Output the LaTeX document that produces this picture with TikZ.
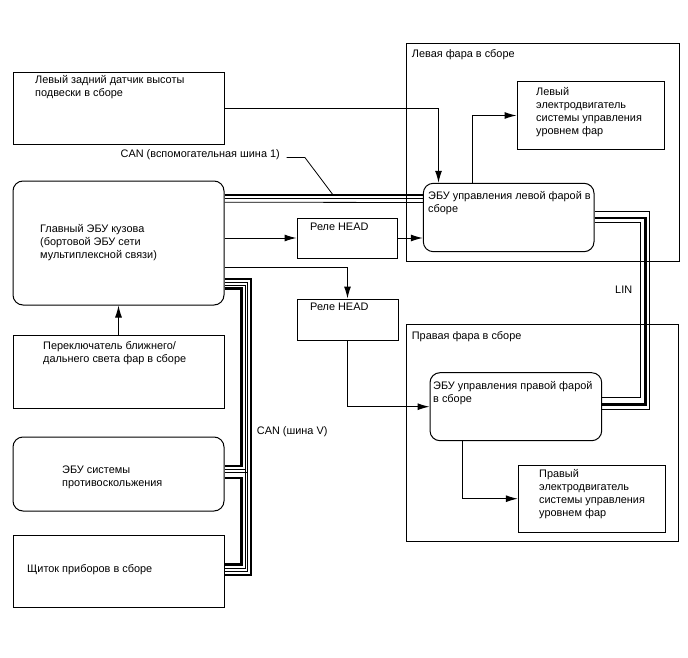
\documentclass[tikz,border=0pt]{standalone}
\usepackage{fontspec}
\setmainfont{Liberation Sans}
\usetikzlibrary{arrows.meta,calc}

\begin{document}
\begin{tikzpicture}[x=1pt, y=-1pt, >={Latex[length=12pt,width=7pt]},
    unit/.style={draw, rectangle, line width=1pt, inner sep=0pt},
    ecu/.style={unit, rounded corners=10pt},
    lbl/.style={anchor=north west, inner sep=0pt, align=left, font=\fontsize{10.9}{13}\selectfont},
    sig/.style={->, line width=1pt},
    busw/.style={line width=2.6pt},
    busn/.style={line width=0.8pt}]

\useasboundingbox (0,0) rectangle (688,658);

% Headlamp assemblies
\node[unit, minimum width=273pt, minimum height=217pt] (lhead) at (542.5,152.5) {};
\node[lbl] (lheadtxt) at (411.7,49) {Левая фара в сборе};
\node[unit, minimum width=272pt, minimum height=216.7pt] (rhead) at (542.5,433.3) {};
\node[lbl] (rheadtxt) at (411.7,331.2) {Правая фара в сборе};

% Left column
\node[unit, minimum width=211pt, minimum height=72.5pt] (sensor) at (118.5,108.75) {};
\node[lbl] (sensortxt) at (35,75.5) {Левый задний датчик высоты\\подвески в сборе};

\node[ecu, minimum width=211pt, minimum height=124pt] (bcm) at (118.5,243) {};
\node[lbl] (bcmtxt) at (40,224.5) {Главный ЭБУ кузова\\(бортовой ЭБУ сети\\мультиплексной связи)};

\node[unit, minimum width=211pt, minimum height=73pt] (dimmer) at (118.5,371.5) {};
\node[lbl] (dimmertxt) at (43,341) {Переключатель ближнего/\\дальнего света фар в сборе};

\node[ecu, minimum width=211pt, minimum height=74pt] (skid) at (118.5,474) {};
\node[lbl] (skidtxt) at (62,465.5) {ЭБУ системы\\противоскольжения};

\node[unit, minimum width=211pt, minimum height=72pt] (instr) at (118.5,571) {};
\node[lbl] (instrtxt) at (27,564.5) {Щиток приборов в сборе};

% Relays
\node[unit, minimum width=100.5pt, minimum height=40pt] (relay1) at (347.25,238) {};
\node[lbl] (relay1txt) at (310,222.5) {Реле HEAD};
\node[unit, minimum width=101pt, minimum height=41pt] (relay2) at (347.5,319.5) {};
\node[lbl] (relay2txt) at (310,302.5) {Реле HEAD};

% Headlamp ECUs and motors
\node[ecu, minimum width=170.7pt, minimum height=68.4pt] (lecu) at (508.65,217.5) {};
\node[lbl] (lecutxt) at (428,191.2) {ЭБУ управления левой фарой в\\сборе};
\node[unit, minimum width=147pt, minimum height=67.5pt] (lmotor) at (590.5,115.5) {};
\node[lbl] (lmotortxt) at (536,87.5) {Левый\\электродвигатель\\системы управления\\уровнем фар};

\node[ecu, minimum width=171.7pt, minimum height=68pt] (recu) at (515.85,406.7) {};
\node[lbl] (recutxt) at (433,381.2) {ЭБУ управления правой фарой\\в сборе};
\node[unit, minimum width=147.4pt, minimum height=67.3pt] (rmotor) at (592,498.7) {};
\node[lbl] (rmotortxt) at (539,469.5) {Правый\\электродвигатель\\системы управления\\уровнем фар};

% CAN (aux bus 1)
\draw[busw] ($(bcm.north east)+(0,14.3)$) -- ($(lecu.north west)+(0,12)$);
\draw[busn] ($(bcm.north east)+(0,18.3)$) -- ($(lecu.north west)+(0,16)$);
\draw[busn] ($(bcm.north east)+(0,21.7)$) -- ($(lecu.north west)+(0,19.7)$);
\node[lbl, anchor=north east] (canaux) at (280,149.5) {CAN (вспомогательная шина 1)};
\coordinate (auxtap) at (333.3,195.3);
\draw[busn] ($(canaux.base east)+(6.7,0)$) -- ++(18.3,0) -- (auxtap);

% LIN
\draw[busn] ($(lecu.north east)+(0,28.4)$) -- ++(55,0) |- ($(recu.north east)+(0,37.3)$);
\draw[busw] ($(lecu.north east)+(0,35)$) -- ++(51,0) |- ($(recu.north east)+(0,32.3)$);
\draw[busn] ($(lecu.north east)+(0,40)$) -- ++(46,0) |- ($(recu.north east)+(0,25.6)$);
\node[lbl] (lin) at (615,286.2) {LIN};

% CAN (V bus)
\draw[busw] ($(bcm.north east)+(0,98.5)$) -- ++(26.5,0) |- ($(instr.north east)+(0,40.5)$);
\draw[busn] ($(bcm.north east)+(0,102.3)$) -- ++(23,0) |- ($(instr.north east)+(0,37)$);
\draw[busn] ($(bcm.north east)+(0,105)$) -- ++(20.5,0) |- ($(instr.north east)+(0,34)$);
\draw[busw] ($(bcm.north east)+(0,108)$) -- ++(16.7,0) |- ($(skid.north east)+(0,29.3)$);
\draw[busw] ($(skid.north east)+(0,41.6)$) -- ++(16.7,0) |- ($(instr.north east)+(0,30)$);
\draw[busn] ($(skid.north east)+(0,33.3)$) -- ++(20.5,0);
\draw[busn] ($(skid.north east)+(0,36)$) -- ++(23,0);
\node[lbl] (canv) at (256.7,426.2) {CAN (шина V)};

% Signal wires
\draw[sig] (sensor.east) -| ($(lecu.north west)+(15.7,0)$);
\draw[sig] ($(lecu.north west)+(50,0)$) |- (lmotor.west);
\draw[sig] (bcm.east |- relay1.west) -- (relay1.west);
\draw[sig] (relay1.east) -- (relay1.east -| lecu.west);
\draw[sig] ($(bcm.north east)+(0,87)$) -| (relay2.north);
\draw[sig] (relay2.south) |- (recu.west);
\draw[sig] (dimmer.north) -- (dimmer.north |- bcm.south);
\draw[sig] ($(recu.south west)+(33.3,0)$) |- (rmotor.west);
\end{tikzpicture}
\end{document}
